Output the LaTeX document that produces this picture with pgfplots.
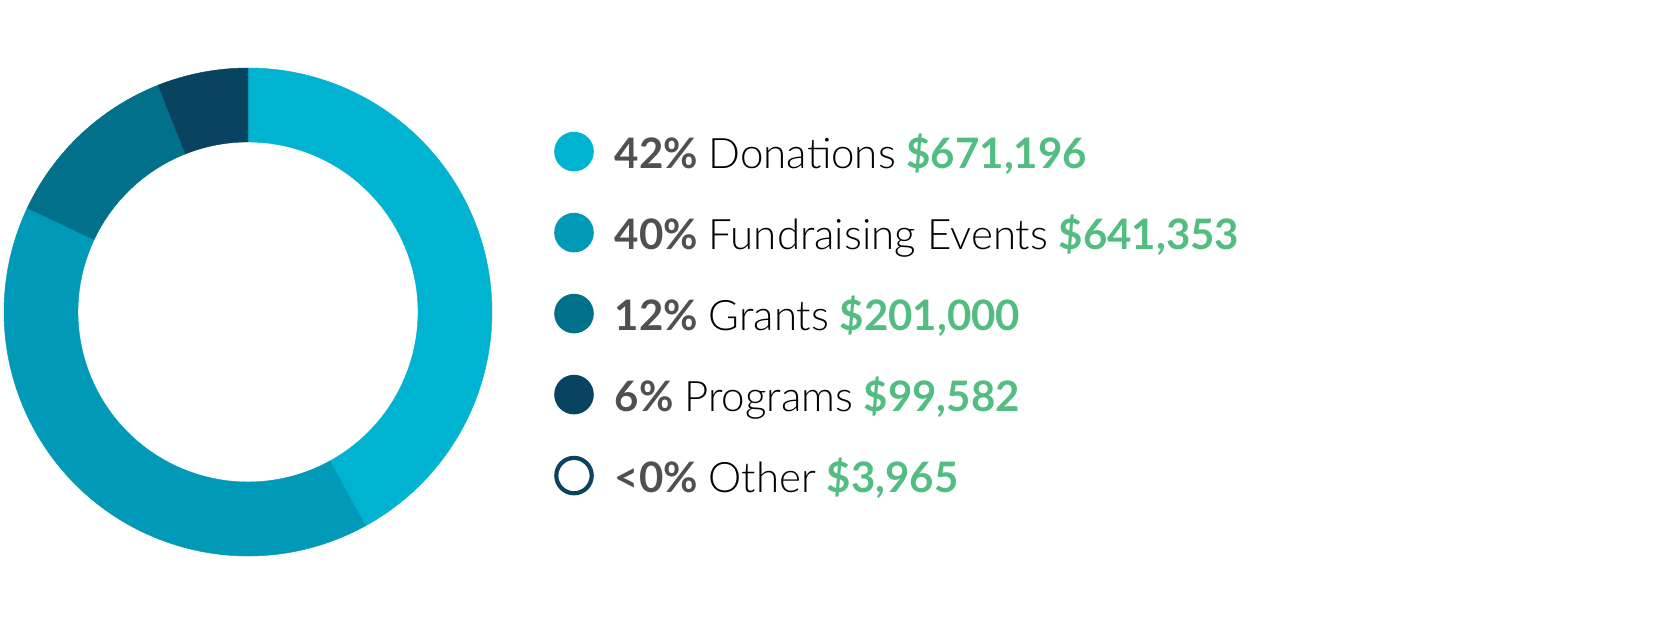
\documentclass[border=0pt]{standalone}
\usepackage{pgfplots}
\usepackage{pgfplotstable}
\pgfplotsset{compat=1.18}
\usepackage{fontspec}
\setmainfont{Lato}
\newfontfamily\latolight{Lato Light}
\definecolor{cDon}{HTML}{00B3D1}
\definecolor{cFund}{HTML}{0099B8}
\definecolor{cGra}{HTML}{00708B}
\definecolor{cProg}{HTML}{08435F}
\definecolor{cOth}{HTML}{0A4360}
\definecolor{pgray}{HTML}{505050}
\definecolor{mgreen}{HTML}{52BD80}
\colorlet{slice0}{cDon}
\colorlet{slice1}{cFund}
\colorlet{slice2}{cGra}
\colorlet{slice3}{cProg}

\pgfplotstableread{
idx pct amount
0 42 671196
1 40 641353
2 12 201000
3 6 99582
4 0 3965
}\datatable

\begin{document}
\begin{tikzpicture}
\path[use as bounding box] (0,0) rectangle (833.5pt,312.5pt);
\begin{axis}[
  hide axis,
  x=122pt, y=122pt,
  xmin=-1, xmax=1, ymin=-1, ymax=1,
  at={(124pt,156.5pt)}, anchor=center,
  clip=false,
]
\def\Ro{122pt}
\def\Ri{85pt}
\def\cum{0}
\pgfplotsforeachungrouped \i in {0,...,3}{%
  \pgfplotstablegetelem{\i}{pct}\of\datatable
  \let\p\pgfplotsretval
  \pgfmathsetmacro{\a}{90-3.6*\cum}%
  \pgfmathsetmacro{\b}{90-3.6*(\cum+\p)}%
  \pgfmathsetmacro{\cum}{\cum+\p}%
  \edef\temp{\noexpand\fill[slice\i, draw=slice\i, line width=0.2pt, shift={(axis cs:0,0)}] (\a:\Ro) arc[start angle=\a, end angle=\b, radius=\Ro] -- (\b:\Ri) arc[start angle=\b, end angle=\a, radius=\Ri] -- cycle;}%
  \temp
}
\end{axis}
% legend
\fill[cDon]  (287pt,236.7pt) circle[radius=9.9pt];
\fill[cFund] (287pt,196.2pt) circle[radius=9.9pt];
\fill[cGra]  (287pt,155.7pt) circle[radius=9.9pt];
\fill[cProg] (287pt,115.2pt) circle[radius=9.9pt];
\draw[cOth, line width=2.1pt, fill=white] (287pt,74.7pt) circle[radius=8.85pt];
\tikzset{lt/.style={anchor=base west, inner sep=0pt, font=\fontsize{21pt}{25pt}\selectfont}}
\node[lt] at (307.25pt,228.3pt) {\textcolor{pgray}{\bfseries 42\%} {\latolight Donations} \textcolor{mgreen}{\bfseries \$671,196}};
\node[lt] at (307.25pt,187.8pt) {\textcolor{pgray}{\bfseries 40\%} {\latolight Fundraising Events} \textcolor{mgreen}{\bfseries \$641,353}};
\node[lt] at (307.25pt,147.3pt) {\textcolor{pgray}{\bfseries 12\%} {\latolight Grants} \textcolor{mgreen}{\bfseries \$201,000}};
\node[lt] at (307.25pt,106.8pt) {\textcolor{pgray}{\bfseries 6\%} {\latolight Programs} \textcolor{mgreen}{\bfseries \$99,582}};
\node[lt] at (307.25pt,66.3pt) {\textcolor{pgray}{\bfseries <0\%} {\latolight Other} \textcolor{mgreen}{\bfseries \$3,965}};
\end{tikzpicture}
\end{document}
